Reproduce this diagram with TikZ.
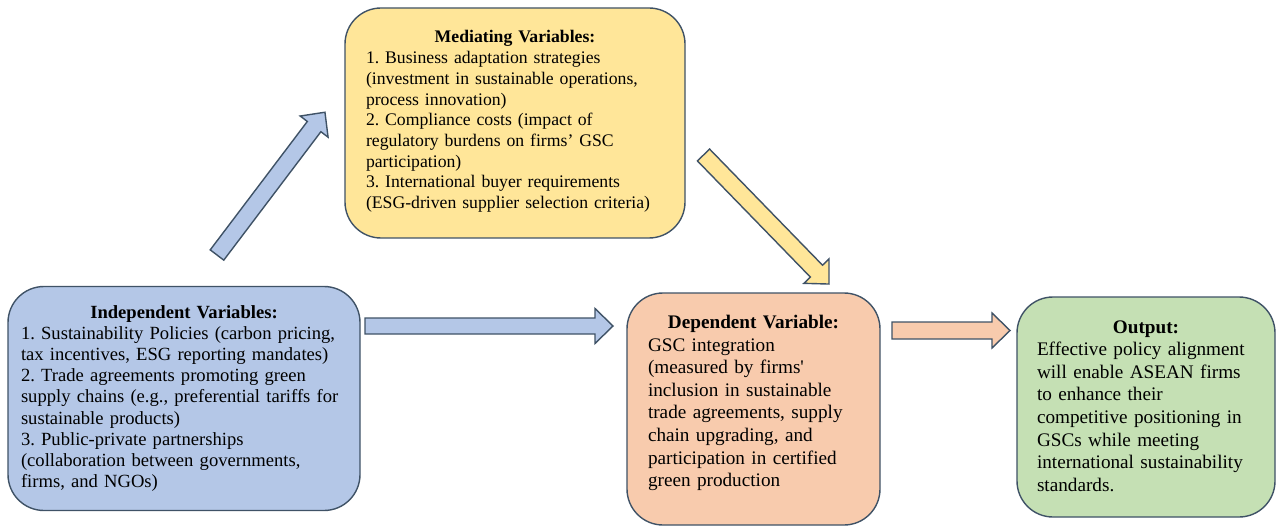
\documentclass[tikz,border=0pt]{standalone}
\usepackage{fontspec}
\setmainfont{Liberation Serif}
\frenchspacing
\definecolor{edge}{HTML}{3F5266}
\definecolor{bluef}{HTML}{B4C7E7}
\definecolor{yelf}{HTML}{FFE699}
\definecolor{oraf}{HTML}{F8CBAD}
\definecolor{grnf}{HTML}{C5E0B4}
\newcommand\bl[1]{\mbox{#1}}
\newcommand\blockarrow[6]{%
  \draw[arrowbody,#1,shift={#2},rotate=#3] (0,-#5) -- (#4-18,-#5) -- (#4-18,-#6) -- (#4,0) -- (#4-18,#6) -- (#4-18,#5) -- (0,#5) -- cycle;}
\begin{document}
\begin{tikzpicture}[x=1pt,y=-1pt,
  box/.style={draw=edge,line width=1.4pt,rounded corners=36pt,inner sep=0pt,align=left},
  arrowbody/.style={draw=edge,line width=1.4pt,line join=miter}]
\useasboundingbox (0,0) rectangle (1276,529);
\node[box,fill=bluef,minimum width=352pt,minimum height=224pt,text width=326pt,
  font=\fontsize{18.6}{21.2}\selectfont] (ind) at (184,398.5)
 {{\centering\textbf{Independent Variables:}\par}
 \bl{1. Sustainability Policies (carbon pricing,}\\
 \bl{tax incentives, ESG reporting mandates)}\\
 \bl{2. Trade agreements promoting green}\\
 \bl{supply chains (e.g., preferential tariffs for}\\
 \bl{sustainable products)}\\
 \bl{3. Public-private partnerships}\\
 \bl{(collaboration between governments,}\\
 \bl{firms, and NGOs)}};
\node[box,fill=yelf,minimum width=340pt,minimum height=230pt,text width=298pt,
  font=\fontsize{17.7}{20.7}\selectfont] (med) at (515,123)
 {{\centering\textbf{Mediating Variables:}\par}
 \bl{1. Business adaptation strategies}\\
 \bl{(investment in sustainable operations,}\\
 \bl{process innovation)}\\
 \bl{2. Compliance costs (impact of}\\
 \bl{regulatory burdens on firms’ GSC}\\
 \bl{participation)}\\
 \bl{3. International buyer requirements}\\
 \bl{(ESG-driven supplier selection criteria)}\vspace{3pt}};
\node[box,fill=oraf,minimum width=253pt,minimum height=232pt,text width=211pt,
  font=\fontsize{19.2}{22.6}\selectfont] (dep) at (753.5,409)
 {{\centering\textbf{Dependent Variable:}\par}
 \bl{GSC integration}\\
 \bl{(measured by firms\textquotesingle}\\
 \bl{inclusion in sustainable}\\
 \bl{trade agreements, supply}\\
 \bl{chain upgrading, and}\\
 \bl{participation in certified}\\
 \bl{green production}\vspace{12pt}};
\node[box,fill=grnf,minimum width=258pt,minimum height=220pt,text width=218pt,
  font=\fontsize{19.2}{22.6}\selectfont] (out) at (1146,407)
 {{\centering\textbf{Output:}\par}
 \bl{Effective policy alignment}\\
 \bl{will enable ASEAN firms}\\
 \bl{to enhance their}\\
 \bl{competitive positioning in}\\
 \bl{GSCs while meeting}\\
 \bl{international sustainability}\\
 \bl{standards.}\vspace{2pt}};
\coordinate (a1) at (217,255);
\coordinate (a2) at (365,326);
\coordinate (a3) at (703.5,155);
\coordinate (a4) at (892,330.5);
\blockarrow{fill=bluef}{(a1)}{52.9}{179}{8.5}{17.5}
\blockarrow{fill=bluef}{(a2)}{0}{248}{8}{17.5}
\blockarrow{fill=yelf}{(a3)}{-45.8}{180}{8.5}{17.5}
\blockarrow{fill=oraf}{(a4)}{0}{118}{8.5}{17.5}
\end{tikzpicture}
\end{document}
